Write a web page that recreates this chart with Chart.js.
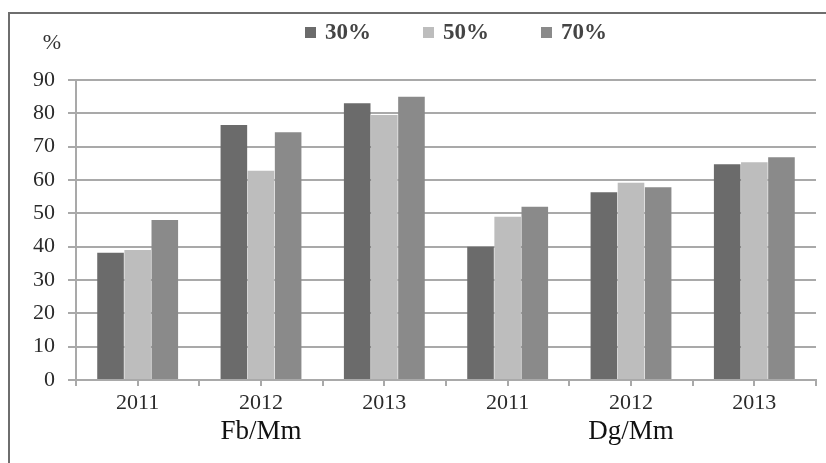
<!DOCTYPE html>
<html>
<head>
<meta charset="utf-8">
<script src="https://cdn.jsdelivr.net/npm/chart.js@4.4.1/dist/chart.umd.min.js"></script>
<style>
  html, body { margin: 0; padding: 0; background: #ffffff; }
  #wrap { width: 826px; height: 463px; position: relative; }
</style>
</head>
<body>
<div id="wrap"><canvas id="chart" width="826" height="463"></canvas></div>
<script>
// Years along the axis and the two sample groups beneath them
const years = ['2011', '2012', '2013', '2011', '2012', '2013'];
const groupLabels = ['', 'Fb/Mm', '', '', 'Dg/Mm', ''];

// Series (percent)
const seriesNames = ['30%', '50%', '70%'];
const values30 = [38.2, 76.5, 83.0, 40.0, 56.3, 64.7];
const values50 = [39.0, 62.8, 79.5, 49.0, 59.2, 65.3];
const values70 = [48.0, 74.3, 85.0, 52.0, 57.8, 66.8];

// Value axis
const yMin = 0;
const yMax = 90;
const yStep = 10;
const yUnit = '%';

const seriesColors = ['#6b6b6b', '#bdbdbd', '#8a8a8a'];
const serif = '"Liberation Serif", "Times New Roman", serif';
const gridGray = '#a9a9a9';

// Outer frame around the figure
const framePlugin = {
  id: 'frame',
  beforeDraw(chart) {
    const ctx = chart.ctx;
    ctx.save();
    ctx.fillStyle = '#ffffff';
    ctx.fillRect(0, 0, chart.width, chart.height);
    ctx.strokeStyle = '#6e6e6e';
    ctx.lineWidth = 2;
    ctx.strokeRect(9, 13, chart.width + 20, chart.height + 20);
    ctx.restore();
  }
};

// Unit label, centre tick marks and the legend row
const extrasPlugin = {
  id: 'extras',
  afterDraw(chart) {
    const ctx = chart.ctx;
    const xs = chart.scales.x;
    ctx.save();
    // tick marks under each category centre
    ctx.strokeStyle = gridGray;
    ctx.lineWidth = 2;
    for (let i = 0; i < chart.data.labels.length; i++) {
      const px = Math.round(xs.getPixelForTick(i));
      ctx.beginPath();
      ctx.moveTo(px, xs.top);
      ctx.lineTo(px, xs.top + 6);
      ctx.stroke();
    }
    // unit label above the value axis
    ctx.fillStyle = '#333333';
    ctx.font = '22px ' + serif;
    ctx.textAlign = 'center';
    ctx.textBaseline = 'middle';
    ctx.fillText(yUnit, 52, 43);
    // legend
    ctx.font = 'bold 23px ' + serif;
    ctx.textAlign = 'left';
    let lx = 305;
    chart.data.datasets.forEach(ds => {
      ctx.fillStyle = ds.backgroundColor;
      ctx.fillRect(lx, 27, 11, 11);
      ctx.fillStyle = '#444444';
      ctx.fillText(ds.label, lx + 20, 33);
      lx += 118;
    });
    ctx.restore();
  }
};

const datasetValues = [values30, values50, values70];

new Chart(document.getElementById('chart'), {
  type: 'bar',
  data: {
    labels: years,
    datasets: seriesNames.map((name, i) => ({
      label: name,
      data: datasetValues[i],
      backgroundColor: seriesColors[i],
      borderWidth: 0,
      categoryPercentage: 0.66,
      barPercentage: 0.98,
      xAxisID: 'x'
    }))
  },
  options: {
    responsive: false,
    devicePixelRatio: 1,
    animation: false,
    layout: { padding: { top: 80, right: 10, left: 0, bottom: 0 } },
    plugins: {
      legend: { display: false },
      tooltip: { enabled: false }
    },
    scales: {
      x: {
        type: 'category',
        position: 'bottom',
        offset: true,
        grid: {
          display: true,
          offset: true,
          drawOnChartArea: false,
          drawTicks: true,
          tickLength: 6,
          color: gridGray,
          lineWidth: 2
        },
        border: { display: true, color: gridGray, width: 2 },
        ticks: {
          color: '#2a2a2a',
          font: { family: serif, size: 22 },
          padding: 4,
          maxRotation: 0,
          autoSkip: false
        },
        afterFit(scale) { scale.height = 35; }
      },
      group: {
        type: 'category',
        position: 'bottom',
        labels: groupLabels,
        offset: true,
        grid: { display: false, drawTicks: false },
        border: { display: false },
        ticks: {
          color: '#111111',
          font: { family: serif, size: 27 },
          padding: 1,
          maxRotation: 0,
          autoSkip: false
        },
        afterFit(scale) { scale.height = 48; }
      },
      y: {
        min: yMin,
        max: yMax,
        grid: {
          color: gridGray,
          lineWidth: 2,
          drawTicks: true,
          tickLength: 8
        },
        border: { display: true, color: gridGray, width: 2 },
        ticks: {
          stepSize: yStep,
          color: '#2a2a2a',
          font: { family: serif, size: 22 },
          padding: 13
        },
        afterFit(scale) { scale.width = 76; }
      }
    }
  },
  plugins: [framePlugin, extrasPlugin]
});
</script>
</body>
</html>
